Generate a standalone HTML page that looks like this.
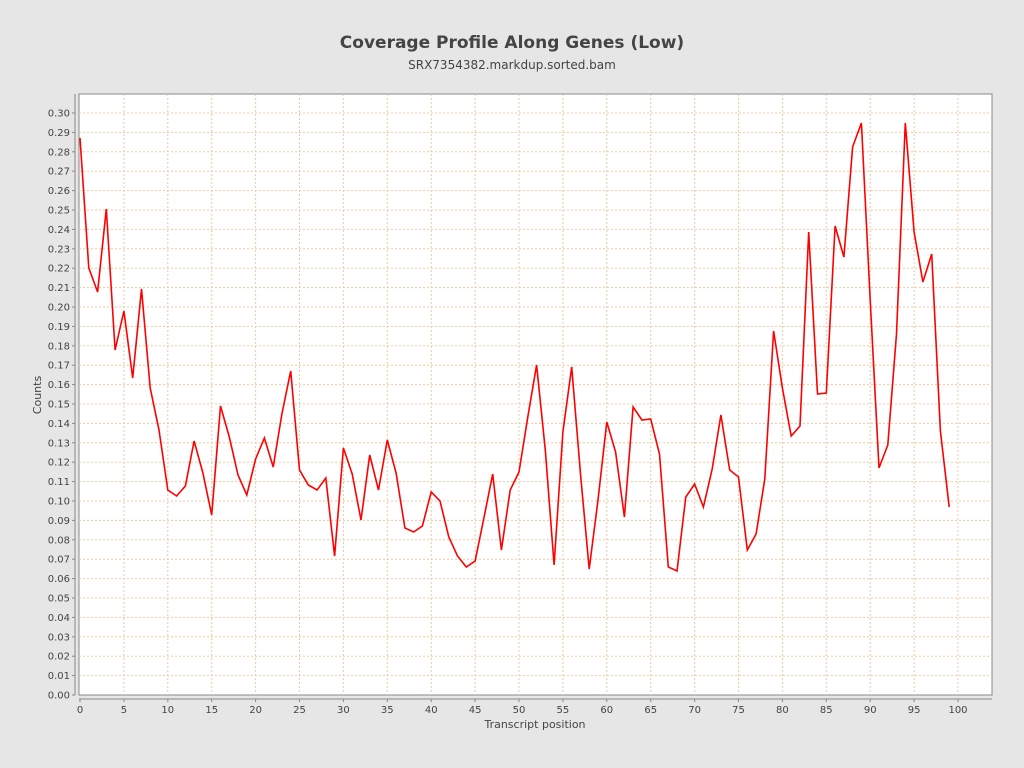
<!DOCTYPE html>
<html><head><style>body{margin:0;background:#e6e6e6}svg{display:block}</style></head><body>
<svg width="1024" height="768" xmlns="http://www.w3.org/2000/svg" font-family="DejaVu Sans, Liberation Sans, sans-serif">
<rect width="1024" height="768" fill="#e6e6e6"/>
<text x="512" y="48" text-anchor="middle" font-size="17" font-weight="bold" fill="#444">Coverage Profile Along Genes (Low)</text>
<text x="512" y="69" text-anchor="middle" font-size="12" fill="#444">SRX7354382.markdup.sorted.bam</text>
<rect x="79" y="94" width="913" height="601" fill="#fff" stroke="#888"/>
<g id="grid" stroke="#f0c8a0" stroke-width="1" stroke-dasharray="2,2"></g>
<g id="ax" font-size="10" fill="#444"></g>
<line x1="75" y1="94" x2="75" y2="695" stroke="#888"/>
<line x1="79" y1="699" x2="992" y2="699" stroke="#888"/>
<text x="41" y="395" font-size="11" fill="#444" text-anchor="middle" transform="rotate(-90 41 395)">Counts</text>
<text x="535" y="728" font-size="11" fill="#444" text-anchor="middle">Transcript position</text>
<polyline id="ln" fill="none" stroke="#ff0000" stroke-width="1.6"/>
</svg>
<script>
var g=document.getElementById('grid'),ax=document.getElementById('ax'),ns='http://www.w3.org/2000/svg';
function el(p,t,a,txt){var e=document.createElementNS(ns,t);for(var k in a)e.setAttribute(k,a[k]);if(txt!=null)e.textContent=txt;p.appendChild(e);}
for(var i=0;i<=30;i++){var y=695-i*19.4;if(i>0)el(g,'line',{x1:79,x2:992,y1:y,y2:y});el(ax,'line',{x1:72,x2:75,y1:y,y2:y,stroke:'#888'});el(ax,'text',{x:70,y:y+3.5,'text-anchor':'end'},(i/100).toFixed(2));}
for(var i=0;i<=20;i++){var x=80+i*5*8.78;if(i>0)el(g,'line',{x1:x,x2:x,y1:94,y2:695});el(ax,'line',{x1:x,x2:x,y1:699,y2:702,stroke:'#888'});el(ax,'text',{x:x,y:713,'text-anchor':'middle'},i*5);}
var d=[138,268,292,209,350,311,378,289,388,430,490,496,486,441,473,515,406,437,475,495,459,438,467,414,371,470,485,490,478,556,448,474,520,455,490,440,473,528,532,526,492,501,537,556,567,561,518,474,550,490,472,417,365,450,565,432,367,474,569,500,422,452,517,407,420,419,454,567,571,497,484,507,469,415,470,477,550,534,479,331,388,436,426,232,394,393,226,257,147,123,300,468,445,334,123,232,282,254,431,507];
document.getElementById('ln').setAttribute('points',d.map(function(v,i){return (80+i*8.78).toFixed(1)+','+v}).join(' '));
</script>
</body></html>
